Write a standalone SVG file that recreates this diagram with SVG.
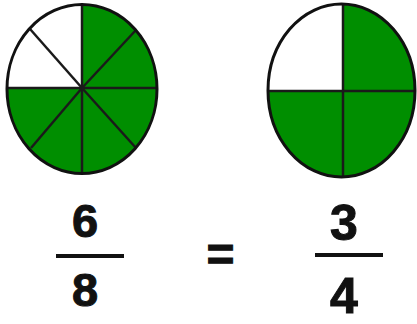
<svg xmlns="http://www.w3.org/2000/svg" width="417" height="324" viewBox="0 0 417 324">
<style>
.rim{fill:none;stroke:#111;stroke-width:3}
.div{stroke:#1a1a1a;stroke-width:2.5;fill:none}
.green{fill:#008e00}
.white{fill:#ffffff}
.num{font-family:"Liberation Sans",Arial,sans-serif;font-weight:bold;fill:#111;text-anchor:middle;stroke:#111;stroke-width:1}
.bar{stroke:#111;stroke-width:4}
</style>
<rect width="417" height="324" fill="#ffffff"/>
<g id="pie-eighths">
<ellipse class="green" cx="82" cy="89" rx="75" ry="84.5"/>
<path class="white" d="M82,88 L82,4.5 A75,84.5 0 0 0 7,89 L82,88 Z"/>
<line class="div" x1="82" y1="4.5" x2="82" y2="173.5"/>
<line class="div" x1="7" y1="88" x2="157" y2="88"/>
<line class="div" x1="82" y1="88" x2="30" y2="29"/>
<line class="div" x1="82" y1="88" x2="136" y2="30"/>
<line class="div" x1="82" y1="88" x2="31" y2="148"/>
<line class="div" x1="82" y1="88" x2="136" y2="148"/>
<ellipse class="rim" cx="82" cy="89" rx="75" ry="84.5"/>
</g>
<g id="pie-quarters">
<ellipse class="green" cx="341.5" cy="90.5" rx="73.5" ry="86.5"/>
<path class="white" d="M343,91 L343,4.2 A73.5,86.5 0 0 0 268,91 Z"/>
<line class="div" x1="343" y1="4" x2="343" y2="177"/>
<line class="div" x1="268" y1="91" x2="415" y2="91"/>
<ellipse class="rim" cx="341.5" cy="90.5" rx="73.5" ry="86.5"/>
</g>
<g id="fraction-6-8">
<text class="num" x="85" y="237" font-size="47">6</text>
<line class="bar" x1="56" y1="256" x2="124" y2="256"/>
<text class="num" x="85" y="306" font-size="47">8</text>
</g>
<g id="equals">
<text class="num" x="220.5" y="271" font-size="48" stroke-width="1.8">=</text>
</g>
<g id="fraction-3-4">
<text class="num" x="344" y="240" font-size="50">3</text>
<line class="bar" x1="315" y1="255" x2="383" y2="255"/>
<text class="num" x="344" y="313" font-size="50">4</text>
</g>
<g id="connectors"></g>
</svg>
